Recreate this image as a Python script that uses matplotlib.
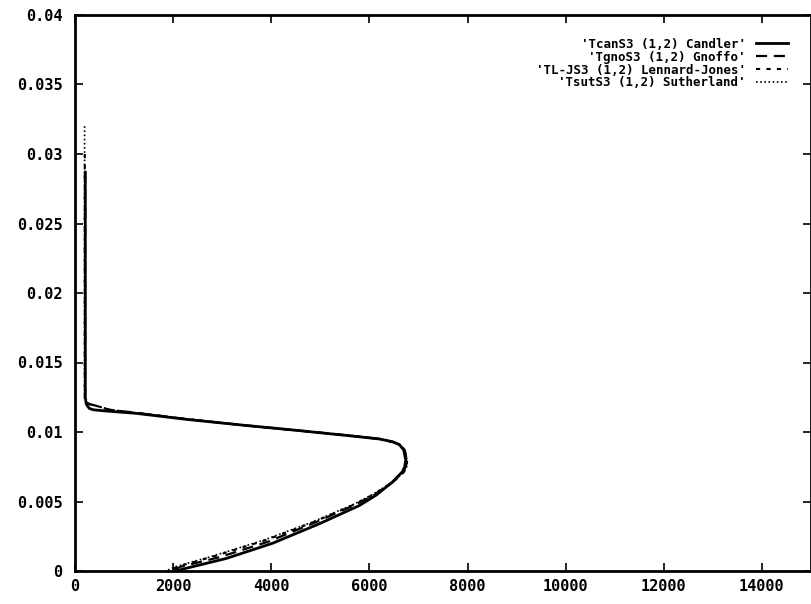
import matplotlib
matplotlib.use("Agg")
import matplotlib.pyplot as plt

# temperature (x) vs height (y)
can_t = [210, 210, 230, 290, 370, 600, 1250, 2270, 3400, 4570, 5590, 6200, 6470,
         6610, 6700, 6740, 6720, 6670, 6470, 6130, 5790, 4980, 4030, 3080, 2270, 2050]
can_y = [0.0287, 0.0125, 0.0120, 0.0117, 0.0116, 0.01152, 0.01134, 0.01091, 0.0105,
         0.0101, 0.00973, 0.0095, 0.0093, 0.0091, 0.0087, 0.0080, 0.0075, 0.00713,
         0.0064, 0.00544, 0.0047, 0.0034, 0.0020, 0.0009, 0.0002, 0.0]

gno_t = [205, 205, 240, 300, 420, 700, 1250, 2270, 3400, 4570, 5590, 6200, 6470,
         6620, 6720, 6760, 6740, 6690, 6480, 6100, 5730, 4900, 3930, 2950, 2150, 1950]
gno_y = [0.0287, 0.0124, 0.0121, 0.0120, 0.0119, 0.0116, 0.01138, 0.01093, 0.0105,
         0.0101, 0.00975, 0.0095, 0.0093, 0.0091, 0.0087, 0.0080, 0.0075, 0.00713,
         0.0064, 0.00548, 0.0048, 0.0035, 0.0021, 0.0010, 0.0003, 0.0]

lj_t = [200, 200, 235, 300, 420, 700, 1250, 2270, 3400, 4570, 5590, 6200, 6440,
        6600, 6720, 6770, 6760, 6700, 6480, 6080, 5700, 4850, 3870, 2870, 2080, 1900]
lj_y = [0.0300, 0.0124, 0.0121, 0.0120, 0.0119, 0.0116, 0.01138, 0.01093, 0.0105,
        0.0101, 0.00975, 0.0095, 0.0093, 0.0091, 0.0086, 0.0080, 0.0075, 0.0071,
        0.0064, 0.0055, 0.0048, 0.0035, 0.0022, 0.0011, 0.0003, 0.0]

sut_t = [195, 195, 230, 300, 420, 700, 1250, 2270, 3400, 4570, 5590, 6200, 6440,
         6600, 6720, 6770, 6760, 6700, 6470, 6060, 5680, 4820, 3830, 2830, 2040, 1850]
sut_y = [0.0320, 0.0124, 0.0121, 0.0120, 0.0119, 0.0116, 0.01138, 0.01093, 0.0105,
         0.0101, 0.00975, 0.0095, 0.0093, 0.0091, 0.0086, 0.0080, 0.0075, 0.0071,
         0.0064, 0.0055, 0.0048, 0.0035, 0.0022, 0.0011, 0.0003, 0.0]

labels = ["'TcanS3 (1,2) Candler'", "'TgnoS3 (1,2) Gnoffo'",
          "'TL-JS3 (1,2) Lennard-Jones'", "'TsutS3 (1,2) Sutherland'"]

x_ticks = [0, 2000, 4000, 6000, 8000, 10000, 12000, 14000]
y_ticks = [0, 0.005, 0.01, 0.015, 0.02, 0.025, 0.03, 0.035, 0.04]
y_ticklabels = ["0", "0.005", "0.01", "0.015", "0.02", "0.025", "0.03", "0.035", "0.04"]

fig = plt.figure(figsize=(8.12, 6.04), dpi=100)
ax = fig.add_axes([75 / 812, 33 / 604, 736 / 812, 556 / 604])

ax.plot(can_t, can_y, color="black", lw=2.0, linestyle="-", label=labels[0])
ax.plot(gno_t, gno_y, color="black", lw=1.6, linestyle=(0, (5, 3)), label=labels[1])
ax.plot(lj_t, lj_y, color="black", lw=1.5, linestyle=(0, (2, 3)), label=labels[2])
ax.plot(sut_t, sut_y, color="black", lw=1.2, linestyle=(0, (1, 1.5)), label=labels[3])

ax.set_xlim(0, 15000)
ax.set_ylim(0, 0.04)
ax.set_xticks(x_ticks)
ax.set_yticks(y_ticks)
ax.set_yticklabels(y_ticklabels)

for lab in ax.get_xticklabels() + ax.get_yticklabels():
    lab.set_fontfamily("DejaVu Sans Mono")
    lab.set_fontweight("bold")
    lab.set_fontsize(11)

ax.tick_params(direction="in", length=6, width=1.2, top=True, right=True)
ax.tick_params(axis="y", pad=9)
ax.tick_params(axis="x", pad=6)
for sp in ax.spines.values():
    sp.set_linewidth(2)

leg = ax.legend(loc="upper right", frameon=False, markerfirst=False,
                handlelength=2.6, labelspacing=0.0, borderaxespad=1.4,
                prop=dict(family="DejaVu Sans Mono", weight="bold", size=9))
for t in leg.get_texts():
    t.set_ha("right")

fig.savefig("out.png", dpi=100)
